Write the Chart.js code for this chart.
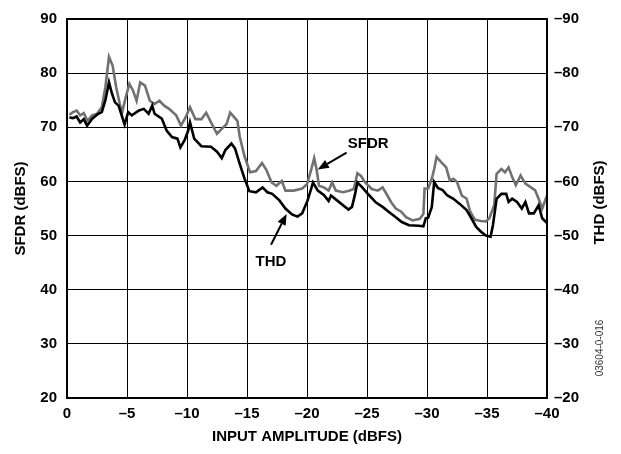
<!DOCTYPE html>
<html>
<head>
<meta charset="utf-8">
<script src="https://cdn.jsdelivr.net/npm/chart.js@4.4.0/dist/chart.umd.min.js"></script>
<style>
  html, body { margin: 0; padding: 0; background: #fff; }
</style>
</head>
<body>
<canvas id="chart" width="621" height="454"></canvas>
<script>
// input amplitude (dBFS) and SFDR (dBFS)
const sfdrX = [-0.2, -0.5, -0.8, -1.1, -1.4, -1.7, -2.1, -2.5, -2.9, -3.2, -3.5, -3.8, -4.1, -4.4, -4.6, -4.9,
  -5.2, -5.5, -5.8, -6.1, -6.5, -6.9, -7.3, -7.7, -8.1, -8.5, -9.1, -9.5, -9.9, -10.25, -10.7, -11.2, -11.6,
  -12.0, -12.5, -12.9, -13.3, -13.6, -14.2, -14.4, -14.8, -15.25, -15.75, -16.25, -16.6, -17.05, -17.45, -17.9,
  -18.2, -18.9, -19.6, -20.0, -20.35, -20.6, -20.8, -21.0, -21.4, -21.8, -22.1, -22.4, -23.0, -23.5, -23.9,
  -24.2, -24.5, -24.85, -25.4, -25.9, -26.3, -26.7, -27.0, -27.4, -27.85, -28.25, -28.8, -29.4, -29.7, -29.8,
  -30.1, -30.4, -30.6, -30.8, -31.2, -31.6, -31.9, -32.2, -32.5, -32.9, -33.3, -33.6, -34.0, -34.5, -34.9,
  -35.2, -35.6, -35.8, -36.2, -36.5, -36.8, -37.1, -37.4, -37.8, -38.2, -38.6, -39.0, -39.3, -39.6, -39.9, -40.0];
const sfdrY = [72.3, 72.8, 73.1, 72.2, 72.6, 71.2, 72.2, 72.5, 73.7, 77.4, 83.0, 81.4, 77.4, 74.3, 72.8, 75.6,
  78.0, 76.8, 74.9, 78.3, 77.7, 74.9, 74.3, 74.9, 74.0, 73.4, 72.2, 70.3, 71.9, 73.7, 71.5, 71.5, 72.7,
  70.9, 68.8, 69.7, 70.6, 72.7, 71.2, 68.2, 64.6, 61.7, 61.9, 63.4, 62.2, 59.8, 59.2, 60.1,
  58.3, 58.3, 58.7, 59.5, 62.2, 64.3, 62.2, 59.2, 58.9, 58.3, 59.8, 58.3, 58.0, 58.3, 58.6,
  61.5, 61.0, 59.8, 58.6, 58.3, 58.9, 57.4, 56.2, 55.0, 54.4, 53.4, 52.8, 53.1, 54.0, 58.7,
  58.7, 60.5, 62.3, 64.5, 63.5, 62.6, 60.2, 60.5, 59.9, 57.4, 56.8, 54.4, 52.9, 52.7, 52.6,
  53.2, 55.6, 61.4, 62.3, 61.7, 62.6, 60.8, 59.3, 61.1, 59.6, 59.0, 58.4, 56.8, 55.0, 56.8, 57.4];

// input amplitude (dBFS) and THD (dBFS)
const thdX = [-0.2, -0.5, -0.8, -1.1, -1.4, -1.67, -2.1, -2.6, -2.9, -3.2, -3.5, -3.75, -4.0, -4.3, -4.6, -4.8,
  -5.1, -5.4, -6.0, -6.4, -6.8, -7.1, -7.3, -7.9, -8.3, -8.75, -9.2, -9.45, -9.8, -10.1, -10.25, -10.6, -11.2,
  -12.0, -12.5, -12.9, -13.2, -13.7, -14.0, -14.4, -14.8, -15.2, -15.75, -16.3, -16.7, -17.1, -17.7, -18.2,
  -18.75, -19.2, -19.6, -20.05, -20.3, -20.5, -20.9, -21.4, -21.8, -22.0, -22.5, -23.0, -23.45, -23.75, -24.0,
  -24.2, -24.6, -25.2, -25.75, -26.3, -26.8, -27.4, -27.9, -28.5, -29.3, -29.7, -29.9, -30.1, -30.4, -30.6,
  -30.9, -31.3, -31.7, -32.2, -32.7, -33.3, -33.7, -34.1, -34.5, -34.9, -35.3, -35.5, -35.8, -36.2, -36.6,
  -36.8, -37.1, -37.5, -37.9, -38.2, -38.5, -38.9, -39.3, -39.6, -40.0];
const thdY = [-71.8, -71.7, -72.0, -70.9, -71.5, -70.3, -71.6, -72.5, -72.8, -75.0, -78.3, -76.2, -74.6, -74.0, -71.9, -70.5,
  -72.8, -72.2, -73.1, -73.4, -72.5, -74.0, -72.5, -71.6, -69.4, -68.2, -67.9, -66.3, -67.6, -69.4, -70.9, -67.9, -66.5,
  -66.4, -65.5, -64.3, -65.8, -67.0, -66.1, -63.2, -60.5, -58.2, -58.0, -58.9, -58.0, -57.7, -56.5, -55.0,
  -53.9, -53.5, -54.1, -56.5, -58.3, -59.8, -58.3, -57.5, -56.4, -57.4, -56.5, -55.6, -54.8, -55.3, -57.6,
  -59.8, -58.9, -57.4, -56.1, -55.3, -54.4, -53.4, -52.5, -51.9, -51.8, -51.7, -53.2, -53.3, -55.3, -59.9,
  -58.8, -58.4, -57.4, -56.8, -55.9, -54.7, -53.2, -51.6, -50.7, -50.0, -49.8, -52.0, -56.8, -57.7, -57.7,
  -56.2, -56.8, -56.2, -55.0, -56.2, -54.1, -54.1, -55.6, -53.2, -52.3];

const xTicks = [0, -5, -10, -15, -20, -25, -30, -35, -40];
const sfdrTicks = [20, 30, 40, 50, 60, 70, 80, 90];
const thdTicks = [-20, -30, -40, -50, -60, -70, -80, -90];

const FONT = "'Liberation Sans', Arial, sans-serif";
const dash = v => String(v).replace('-', '\u2013');
const pts = (xs, ys) => xs.map((x, i) => ({ x: x, y: ys[i] }));

const arrow = (ctx, x0, y0, x1, y1) => {
  const ang = Math.atan2(y1 - y0, x1 - x0);
  const len = 11, w = 4.5;
  const bx = x1 - len * Math.cos(ang), by = y1 - len * Math.sin(ang);
  ctx.beginPath();
  ctx.moveTo(x0, y0);
  ctx.lineTo(bx, by);
  ctx.stroke();
  ctx.beginPath();
  ctx.moveTo(x1, y1);
  ctx.lineTo(bx + w * Math.sin(ang), by - w * Math.cos(ang));
  ctx.lineTo(bx - w * Math.sin(ang), by + w * Math.cos(ang));
  ctx.closePath();
  ctx.fill();
};

// frame, callouts, right axis title and figure number
const notes = {
  id: 'notes',
  afterDatasetsDraw(chart) {
    const { ctx, chartArea: a, scales: { x, y } } = chart;
    ctx.save();
    ctx.strokeStyle = '#000';
    ctx.fillStyle = '#000';
    ctx.lineWidth = 2;
    ctx.strokeRect(a.left, a.top, a.right - a.left, a.bottom - a.top);

    ctx.font = 'bold 15px ' + FONT;
    ctx.textAlign = 'center';
    ctx.textBaseline = 'middle';
    ctx.fillText('SFDR', x.getPixelForValue(-25.1), y.getPixelForValue(67.0));
    ctx.fillText('THD', x.getPixelForValue(-17.0), y.getPixelForValue(45.1));
    arrow(ctx, x.getPixelForValue(-23.3), y.getPixelForValue(65.3), x.getPixelForValue(-20.9), y.getPixelForValue(62.2));
    arrow(ctx, x.getPixelForValue(-17.0), y.getPixelForValue(48.3), x.getPixelForValue(-18.3), y.getPixelForValue(54.0));

    ctx.save();
    ctx.translate(600, (a.top + a.bottom) / 2 - 6);
    ctx.rotate(-Math.PI / 2);
    ctx.fillText('THD (dBFS)', 0, 0);
    ctx.restore();

    ctx.translate(600, 348);
    ctx.rotate(-Math.PI / 2);
    ctx.font = '10px ' + FONT;
    ctx.fillStyle = '#333';
    ctx.fillText('03604-0-016', 0, 0);
    ctx.restore();
  }
};

new Chart(document.getElementById('chart'), {
  type: 'line',
  data: {
    datasets: [
      {
        label: 'THD',
        data: pts(thdX, thdY),
        yAxisID: 'y2',
        borderColor: '#000',
        borderWidth: 2.6,
        pointRadius: 0,
        order: 0,
      },
      {
        label: 'SFDR',
        data: pts(sfdrX, sfdrY),
        yAxisID: 'y',
        borderColor: '#717171',
        borderWidth: 2.6,
        pointRadius: 0,
        order: 1,
      },
    ],
  },
  options: {
    responsive: false,
    animation: false,
    layout: { padding: { top: 18, left: 0, right: 0, bottom: 0 } },
    plugins: {
      legend: { display: false },
      tooltip: { enabled: false },
    },
    scales: {
      x: {
        type: 'linear',
        min: -40,
        max: 0,
        reverse: true,
        afterBuildTicks: s => { s.ticks = xTicks.map(v => ({ value: v })); },
        afterFit: s => { s.height = 56; },
        ticks: {
          padding: 7,
          color: '#000',
          font: { family: FONT, size: 15, weight: 'bold' },
          callback: v => dash(v),
        },
        grid: { color: '#000', lineWidth: 1, drawTicks: false },
        border: { color: '#000', width: 2 },
        title: {
          display: true,
          text: 'INPUT AMPLITUDE (dBFS)',
          color: '#000',
          font: { family: FONT, size: 15, weight: 'bold' },
          padding: { top: 0, bottom: 8 },
        },
      },
      y: {
        type: 'linear',
        position: 'left',
        min: 20,
        max: 90,
        afterBuildTicks: s => { s.ticks = sfdrTicks.map(v => ({ value: v })); },
        afterFit: s => { s.width = 67; },
        ticks: {
          padding: 10,
          color: '#000',
          font: { family: FONT, size: 15, weight: 'bold' },
        },
        grid: { color: '#000', lineWidth: 1, drawTicks: false },
        border: { color: '#000', width: 2 },
        title: {
          display: true,
          text: 'SFDR (dBFS)',
          color: '#000',
          font: { family: FONT, size: 15, weight: 'bold' },
          padding: { top: 12, bottom: 0 },
        },
      },
      y2: {
        type: 'linear',
        position: 'right',
        min: -90,
        max: -20,
        reverse: true,
        afterBuildTicks: s => { s.ticks = thdTicks.map(v => ({ value: v })); },
        afterFit: s => { s.width = 74; },
        ticks: {
          padding: 7,
          color: '#000',
          font: { family: FONT, size: 15, weight: 'bold' },
          callback: v => dash(v),
        },
        grid: { display: false, drawTicks: false },
        border: { color: '#000', width: 2 },
        title: { display: false },
      },
    },
  },
  plugins: [notes],
});
</script>
</body>
</html>
